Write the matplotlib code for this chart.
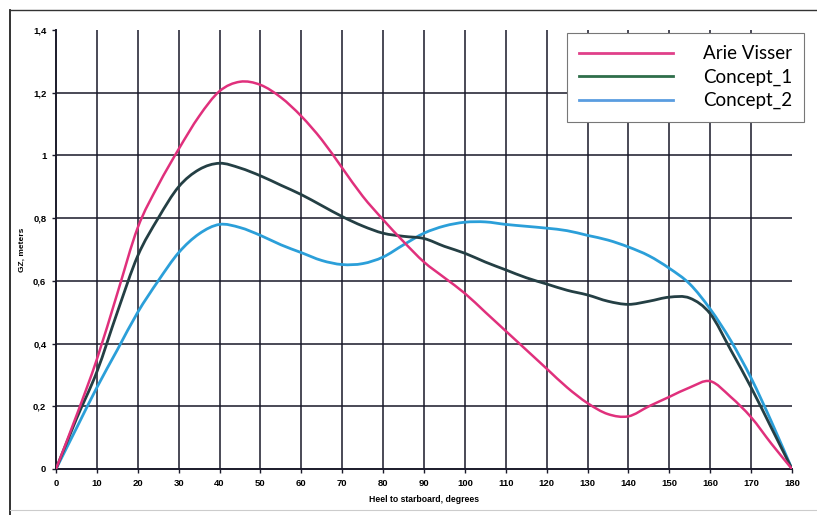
import matplotlib
matplotlib.use("Agg")
import matplotlib.pyplot as plt
from matplotlib.lines import Line2D
from matplotlib.path import Path
from matplotlib.patches import PathPatch
import numpy as np

heel = [0, 5, 10, 15, 20, 25, 30, 35, 40, 45, 50, 55, 60, 65, 70, 75, 80, 85, 90,
        95, 100, 105, 110, 115, 120, 125, 130, 135, 140, 145, 150, 155, 160, 165,
        170, 175, 180]

arie_visser = [0, 0.17, 0.35, 0.56, 0.77, 0.905, 1.02, 1.125, 1.205, 1.235, 1.225,
               1.185, 1.125, 1.05, 0.96, 0.87, 0.795, 0.725, 0.66, 0.61, 0.56, 0.50,
               0.44, 0.38, 0.32, 0.26, 0.21, 0.175, 0.168, 0.20, 0.23, 0.26, 0.28,
               0.23, 0.165, 0.08, 0]

concept_1 = [0, 0.16, 0.31, 0.50, 0.68, 0.80, 0.90, 0.955, 0.975, 0.96, 0.935, 0.905,
             0.875, 0.84, 0.805, 0.775, 0.752, 0.742, 0.735, 0.71, 0.688, 0.66, 0.635,
             0.61, 0.59, 0.57, 0.555, 0.535, 0.525, 0.535, 0.548, 0.545, 0.495, 0.38,
             0.26, 0.13, 0]

concept_2 = [0, 0.13, 0.26, 0.38, 0.50, 0.60, 0.69, 0.75, 0.78, 0.77, 0.745, 0.715,
             0.69, 0.665, 0.652, 0.655, 0.676, 0.715, 0.752, 0.775, 0.787, 0.788, 0.78,
             0.774, 0.768, 0.76, 0.745, 0.73, 0.708, 0.68, 0.64, 0.59, 0.51, 0.41,
             0.29, 0.15, 0]

x_ticks = list(range(0, 181, 10))
y_ticks = [0, 0.2, 0.4, 0.6, 0.8, 1.0, 1.2, 1.4]
y_tick_labels = ["0", "0,2", "0,4", "0,6", "0,8", "1", "1,2", "1,4"]
series_names = ["Arie Visser", "Concept_1", "Concept_2"]


def smooth_path(xs, ys):
    """Bezier path through the data points (Catmull-Rom style smoothing)."""
    xs = np.asarray(xs, float)
    ys = np.asarray(ys, float)
    pts = np.column_stack([xs, ys])
    verts = [pts[0]]
    codes = [Path.MOVETO]
    n = len(pts)
    for i in range(n - 1):
        p0 = pts[i - 1] if i > 0 else pts[i]
        p1 = pts[i]
        p2 = pts[i + 1]
        p3 = pts[i + 2] if i + 2 < n else pts[i + 1]
        c1 = p1 + (p2 - p0) / 6.0
        c2 = p2 - (p3 - p1) / 6.0
        verts += [c1, c2, p2]
        codes += [Path.CURVE4, Path.CURVE4, Path.CURVE4]
    return Path(verts, codes)


W, H = 817, 515
fig = plt.figure(figsize=(W / 100, H / 100), dpi=100)
fig.patch.set_facecolor("white")
ax = fig.add_axes([56 / W, 1 - 469 / H, (792 - 56) / W, (469 - 30) / H])

ax.set_xlim(0, 180)
ax.set_ylim(0, 1.4)

grid_kw = dict(color="#1a1a2a", lw=1.3, alpha=0.85, zorder=1)
for xv in x_ticks[1:-1]:
    ax.plot([xv, xv], [0, 1.4], **grid_kw)
for yv in y_ticks[1:-1]:
    ax.plot([0, 180], [yv, yv], **grid_kw)

for s in ["top", "right"]:
    ax.spines[s].set_visible(False)
for s in ["left", "bottom"]:
    ax.spines[s].set_color("#1a1a2a")
    ax.spines[s].set_linewidth(1.4)

for ys, col, lw, z in [(concept_2, "#2b9fd9", 2.0, 3),
                       (concept_1, "#243f44", 2.0, 4),
                       (arie_visser, "#e0307c", 1.8, 5)]:
    patch = PathPatch(smooth_path(heel, ys), facecolor="none", edgecolor=col,
                      lw=lw, zorder=z, capstyle="round", joinstyle="round")
    ax.add_patch(patch)

ax.set_xticks(x_ticks)
ax.set_xticklabels([str(v) for v in x_ticks], fontsize=6.8, fontweight="bold",
                   family="Liberation Sans")
ax.set_yticks(y_ticks)
ax.set_yticklabels(y_tick_labels, fontsize=6.8, fontweight="bold",
                   family="Liberation Sans")
ax.tick_params(axis="both", length=3, width=1, color="#1a1a2a", pad=4)

ax.set_xlabel("Heel to starboard, degrees", fontsize=6.2, fontweight="bold",
              family="Liberation Sans", labelpad=5)
ax.set_ylabel("GZ, meters", fontsize=6, fontweight="bold",
              family="Liberation Sans", labelpad=5)

handles = [Line2D([], [], color="#e0408a", lw=2),
           Line2D([], [], color="#2e6e4a", lw=2),
           Line2D([], [], color="#5a9de0", lw=2)]
leg = fig.legend(handles, series_names, loc="upper left",
                 bbox_to_anchor=(567 / W, 1 - 33 / H),
                 prop={"family": "Lato", "size": 13.5},
                 handlelength=5.0, handletextpad=1.6, labelspacing=0.34,
                 borderpad=0.65, borderaxespad=0, fancybox=False,
                 frameon=True, edgecolor="#777777", framealpha=1)
leg.get_frame().set_linewidth(0.8)

# scanned page border
fig.add_artist(Line2D([10 / W, 10 / W], [0, 1 - 10 / H], transform=fig.transFigure,
                      color="#222222", lw=1.3))
fig.add_artist(Line2D([10 / W, 1], [1 - 10 / H, 1 - 10 / H], transform=fig.transFigure,
                      color="#333333", lw=1.0))
fig.add_artist(Line2D([10 / W, 1], [1 - 510 / H, 1 - 510 / H], transform=fig.transFigure,
                      color="#cccccc", lw=0.8))

fig.savefig("out.png", dpi=100)
